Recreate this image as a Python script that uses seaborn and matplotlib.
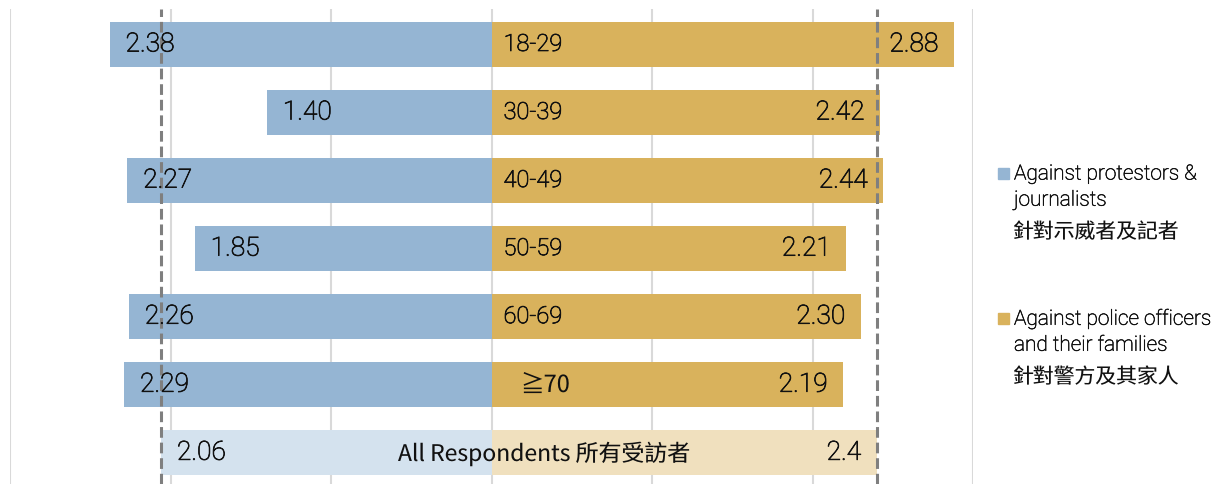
import matplotlib
matplotlib.use("Agg")
import matplotlib.pyplot as plt
import matplotlib.patheffects as pe
import seaborn as sns
import pandas as pd
import numpy as np
from matplotlib.patches import Rectangle

# ---- data ----
categories = ["18-29", "30-39", "40-49", "50-59", "60-69", "≧70", "All Respondents 所有受訪者"]
against_protestors = [2.38, 1.40, 2.27, 1.85, 2.26, 2.29, 2.06]
against_police = [2.88, 2.42, 2.44, 2.21, 2.30, 2.19, 2.4]
value_labels_left = ["2.38", "1.40", "2.27", "1.85", "2.26", "2.29", "2.06"]
value_labels_right = ["2.88", "2.42", "2.44", "2.21", "2.30", "2.19", "2.4"]
avg_protestors = 2.06
avg_police = 2.4
legend_labels = ["Against protestors &\njournalists\n針對示威者及記者",
                 "Against police officers\nand their families\n針對警方及其家人"]

BLUE = "#95B5D3"
GOLD = "#D9B25C"
BLUE_L = "#D4E2EE"
GOLD_L = "#F0E0BE"

sns.set_theme(style="white")
FAM = ["Roboto", "Noto Sans CJK TC", "DejaVu Sans"]
CJK = ["Noto Sans CJK TC", "DejaVu Sans"]
plt.rcParams["font.family"] = FAM
plt.rcParams["text.hinting"] = "no_hinting"
plt.rcParams["text.hinting_factor"] = 1

W, H = 1216, 485
fig = plt.figure(figsize=(W / 100, H / 100), dpi=100)
ax = fig.add_axes([10 / W, 0, (973 - 10) / W, (485 - 10) / H])

df = pd.DataFrame({
    "cat": categories,
    "left": [-v for v in against_protestors],
    "right": against_police,
})
n = len(categories)
left_pal = [BLUE] * (n - 1) + [BLUE_L]
right_pal = [GOLD] * (n - 1) + [GOLD_L]

sns.barplot(data=df, x="left", y="cat", hue="cat", palette=left_pal, orient="h",
            width=0.66, linewidth=0, saturation=1, legend=False, ax=ax, zorder=2)
sns.barplot(data=df, x="right", y="cat", hue="cat", palette=right_pal, orient="h",
            width=0.66, linewidth=0, saturation=1, legend=False, ax=ax, zorder=2)

ax.set_xlim(-3, 3)
ax.set_ylim(6.46, -0.52)
for gx in range(-3, 4):
    ax.axvline(gx, color="#D9D9D9", lw=1.5, zorder=0)
ax.axvline(-avg_protestors, color="#7F7F7F", lw=2.2, ls=(0, (3.5, 1.6)), zorder=4)
ax.axvline(avg_police, color="#7F7F7F", lw=2.2, ls=(0, (3.5, 1.6)), zorder=4)

ax.set_xticks([])
ax.set_yticks([])
ax.set_xlabel("")
ax.set_ylabel("")
for s in ax.spines.values():
    s.set_visible(False)

VFS = 19
CFS = 17
TXT = "#111111"
thick = [pe.withStroke(linewidth=0.55, foreground=TXT)]
for i in range(n):
    ax.text(-against_protestors[i] + 0.1, i, value_labels_left[i], ha="left", va="center",
            fontsize=VFS, color=TXT, family=FAM, fontweight="light", zorder=5,
            path_effects=thick)
    ax.text(against_police[i] - 0.1, i, value_labels_right[i], ha="right", va="center",
            fontsize=VFS, color=TXT, family=FAM, fontweight="light", zorder=5,
            path_effects=thick)
    if i < n - 1:
        special = categories[i].startswith("≧")
        xoff = 0.18 if special else 0.075
        ax.text(xoff, i, categories[i], ha="left", va="center", fontsize=CFS,
                color=TXT, family=CJK if special else FAM,
                fontweight="normal" if special else "light", zorder=5,
                path_effects=None if special else thick)
    else:
        ax.text(0.325, i, categories[i], ha="center", va="center", fontsize=16.5,
                color=TXT, family=CJK, zorder=5)

# legend
leg_colors = [BLUE, GOLD]
leg_y = [175, 320]
for c, y0, lab in zip(leg_colors, leg_y, legend_labels):
    fig.patches.append(Rectangle(((998) / W, 1 - (y0 + 5) / H), 11 / W, 11 / H,
                                 transform=fig.transFigure, color=c, figure=fig))
    lines = lab.split("\n")
    offs = [0, 26, 57]
    for ln, o in zip(lines, offs):
        has_cjk = any(ord(ch) > 0x2E80 for ch in ln)
        if has_cjk:
            fig.text(1013 / W, 1 - (y0 + o) / H, ln, ha="left", va="center",
                     fontsize=15, color=TXT, family=CJK)
        else:
            fig.text(1014 / W, 1 - (y0 + o) / H, ln, ha="left", va="center",
                     fontsize=15, color=TXT, family=FAM, fontweight="light",
                     path_effects=[pe.withStroke(linewidth=0.4, foreground=TXT)])

fig.savefig("out.png", dpi=100)
